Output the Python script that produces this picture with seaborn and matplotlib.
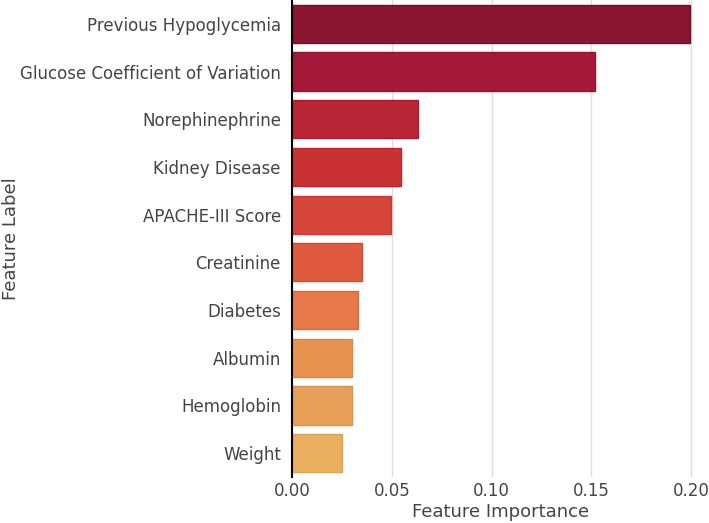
import pandas as pd
import matplotlib.pyplot as plt
import seaborn as sns

# -----------------------------
# Data
# -----------------------------
features = [
    "Previous Hypoglycemia",
    "Glucose Coefficient of Variation",
    "Norephinephrine",
    "Kidney Disease",
    "APACHE-III Score",
    "Creatinine",
    "Diabetes",
    "Albumin",
    "Hemoglobin",
    "Weight",
]
importance = [0.1995, 0.1518, 0.0633, 0.0548, 0.0497, 0.0352, 0.0332, 0.0302, 0.0299, 0.0251]
bar_colors = ["#8A1530", "#A4193A", "#B82537", "#C93234", "#D6453A",
              "#E05A40", "#E6784A", "#E8924F", "#E8A058", "#EAB060"]
edge_colors = ["#7A0F28", "#941432", "#A81E30", "#B9282E", "#C63A30",
               "#D04E38", "#D66C40", "#D88646", "#D8944E", "#DAA456"]

df = pd.DataFrame({"Feature Label": features, "Feature Importance": importance})

# -----------------------------
# Plot
# -----------------------------
sns.set_style("whitegrid")
plt.rcParams["font.family"] = ["DejaVu Sans"]

fig, ax = plt.subplots(figsize=(7.09, 5.23), dpi=100)
sns.barplot(data=df, x="Feature Importance", y="Feature Label", hue="Feature Label",
            palette=bar_colors, legend=False, width=0.8, saturation=1,
            linewidth=1, ax=ax)
for patch, c in zip(ax.patches, edge_colors):
    patch.set_edgecolor(c)

ax.set_xlim(0, 0.209)
ax.set_xticks([0.0, 0.05, 0.10, 0.15, 0.20])
ax.set_xticklabels(["0.00", "0.05", "0.10", "0.15", "0.20"])
ax.grid(axis="y", visible=False)
ax.grid(axis="x", color="#dddddd", linewidth=1)
for side in ["top", "right", "bottom"]:
    ax.spines[side].set_visible(False)
ax.spines["left"].set_color("black")
ax.spines["left"].set_linewidth(1.5)

ax.tick_params(axis="both", labelsize=12, labelcolor="#444444", length=0)
ax.tick_params(axis="y", pad=8)
ax.set_xlabel("Feature Importance", fontsize=13, color="#444444", labelpad=2)
ax.set_ylabel("Feature Label", fontsize=13, color="#444444")
ax.yaxis.set_label_coords(-0.652, 0.5)

fig.subplots_adjust(left=0.412, right=1.0, top=1.0, bottom=0.088)
fig.savefig("out.png", dpi=100)
plt.close()
